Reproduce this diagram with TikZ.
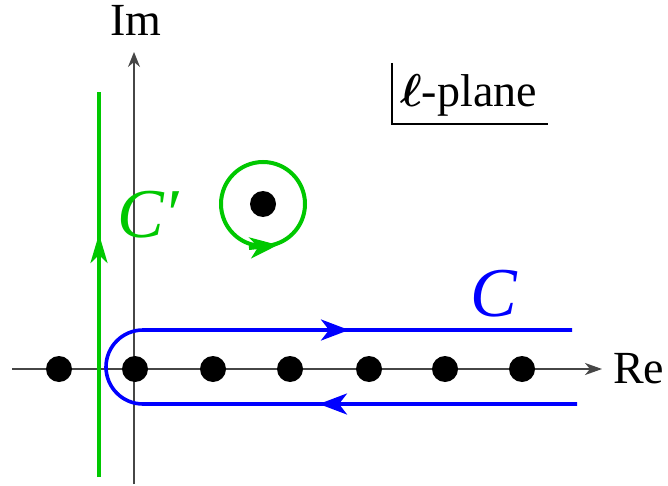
\RequirePackage{fix-cm}
\documentclass[tikz,border=0pt]{standalone}
\usepackage{fontspec}
\setmainfont{Liberation Serif}
\usetikzlibrary{arrows.meta}
\definecolor{cgreen}{RGB}{0,200,0}
\definecolor{cblue}{RGB}{0,0,255}
\definecolor{axisgray}{RGB}{70,70,70}
\begin{document}
\begin{tikzpicture}[x=1pt,y=-1pt,
  axis/.style={draw=axisgray,line width=1.6},
  pole/.style={fill=black,draw=none},
  gline/.style={draw=cgreen,line width=4},
  bline/.style={draw=cblue,line width=3.6},
  lbl/.style={inner sep=0pt,font=\fontsize{46}{50}\selectfont},
  biglbl/.style={inner sep=0pt,font=\fontsize{70}{74}\selectfont\itshape},
  bigtip/.style={-{Stealth[length=28pt,width=21pt,inset=8pt]}},
]
\useasboundingbox (0,0) rectangle (668,486);
% axes
\coordinate (xl) at (12,369);
\coordinate (xr) at (602,369);
\coordinate (yb) at (134,484);
\coordinate (yt) at (134,52);
\draw[axis,-{Stealth[length=17pt,width=12pt,inset=5pt]}] (xl) -- (xr);
\draw[axis,-{Stealth[length=15pt,width=12pt,inset=5pt]}] (yb) -- (yt);
\node[lbl,anchor=base] (im) at (136,36) {Im};
\node[lbl,anchor=base west] (re) at (613,383) {Re};
% poles
\foreach \i/\x in {0/59,1/135,2/213,3/290,4/369,5/445,6/522}{
  \fill[pole] (\x,369) circle (13);
}
\fill[pole] (263,204) circle (13);
% green vertical contour C'
\coordinate (gb) at (99,477);
\coordinate (gt) at (99,92);
\draw[gline] (gb) -- (gt);
\draw[gline,-{Stealth[length=29pt,width=17pt,inset=8pt]}] (99,275) -- (99,234);
\node[biglbl,anchor=base west,text=cgreen] (cp) at (117,237) {C′};
% green circle
\draw[gline] (263,204) circle (42);
\draw[gline,bigtip] (249,248) -- (278,245);
% blue contour C
\coordinate (bl) at (577,404);
\coordinate (bu) at (572,330);
\draw[bline] (bl) -- (143,404) arc[start angle=90,end angle=270,radius=37] -- (bu);
\draw[bline,bigtip] (318,330) -- (349,330);
\draw[bline,bigtip] (350,404) -- (319,404);
\node[biglbl,anchor=base west,text=cblue] (c) at (470,316) {C};
% l-plane label
\draw[line width=1.6] (392,63) -- (392,124) -- (548,124);
\node[lbl,anchor=base west] (pl) at (400,107) {{\boldmath$\ell$}-plane};
\end{tikzpicture}
\end{document}
